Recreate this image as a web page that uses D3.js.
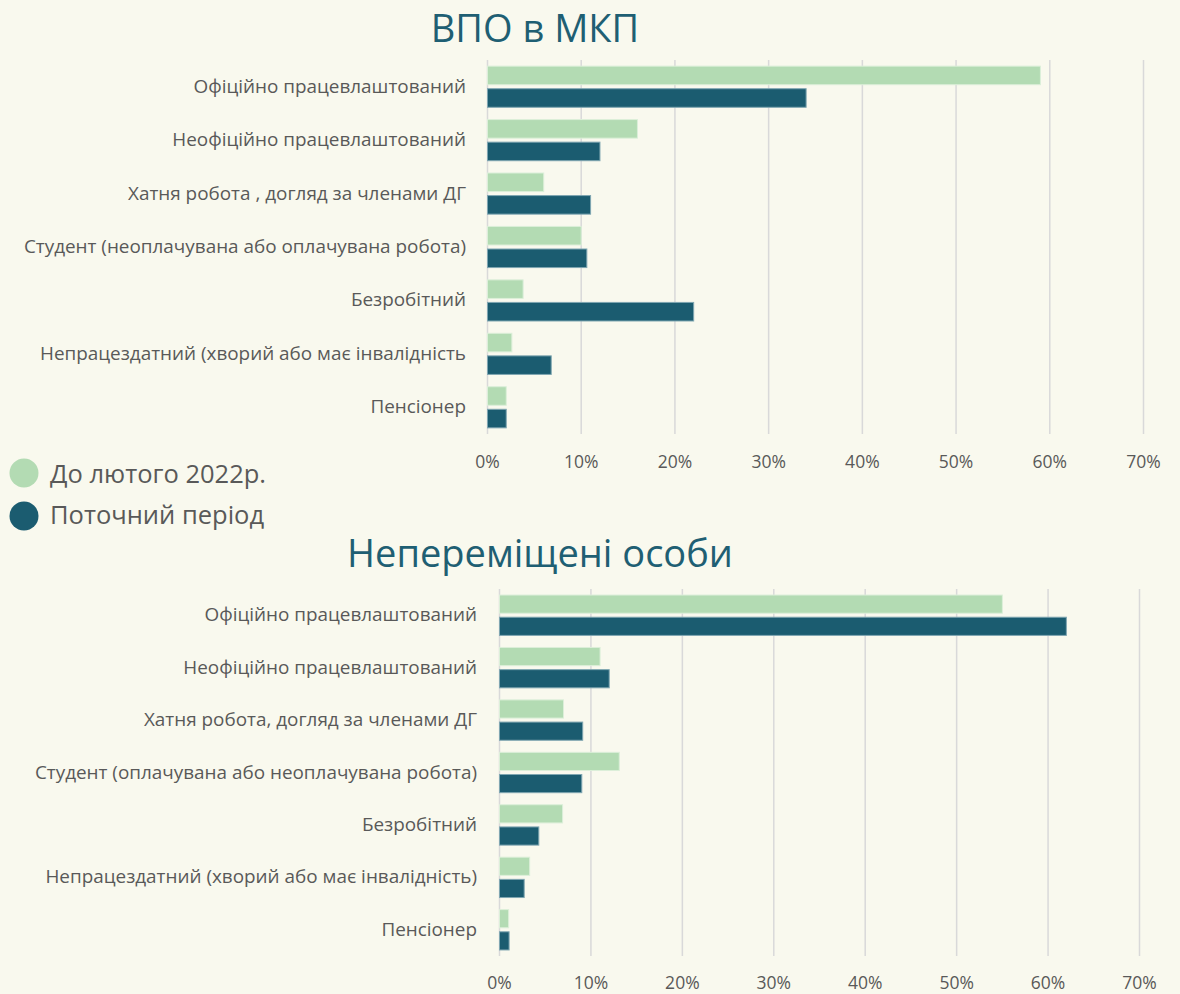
<!DOCTYPE html>
<html>
<head>
<meta charset="utf-8">
<script src="https://cdn.jsdelivr.net/npm/d3@7.9.0/dist/d3.min.js"></script>
<style>
  html, body { margin: 0; padding: 0; background: #f9f9ee; }
  svg { display: block; }
  text { font-family: 'Open Sans', 'Noto Sans', sans-serif; }
</style>
</head>
<body>
<div id="chart"></div>
<script>
// categories, top panel (IDPs)
const idpCategories = [
  'Офіційно працевлаштований',
  'Неофіційно працевлаштований',
  'Хатня робота , догляд за членами ДГ',
  'Студент (неоплачувана або оплачувана робота)',
  'Безробітний',
  'Непрацездатний (хворий або має інвалідність',
  'Пенсіонер',
];
const idpBefore = [59, 16, 6, 10, 3.8, 2.6, 2];
const idpCurrent = [34, 12, 11, 10.6, 22, 6.8, 2];

// categories, bottom panel (non-displaced)
const localCategories = [
  'Офіційно працевлаштований',
  'Неофіційно працевлаштований',
  'Хатня робота, догляд за членами ДГ',
  'Студент (оплачувана або неоплачувана робота)',
  'Безробітний',
  'Непрацездатний (хворий або має інвалідність)',
  'Пенсіонер',
];
const localBefore = [55, 11, 7, 13.1, 6.9, 3.3, 1];
const localCurrent = [62, 12, 9.1, 9, 4.3, 2.7, 1.05];

const seriesNames = ['До лютого 2022р.', 'Поточний період'];
const xTicks = [0, 10, 20, 30, 40, 50, 60, 70];

const colors = ['#b3dbb3', '#1b5c70'];
const strokes = ['#dcefd9', '#7fa6b1'];

const width = 1180;
const height = 994;

const svg = d3
  .select('#chart')
  .append('svg')
  .attr('width', width)
  .attr('height', height);

svg.append('rect')
  .attr('width', width)
  .attr('height', height)
  .attr('fill', '#f9f9ee');

drawPanel({
  title: 'ВПО в МКП',
  titleX: 535,
  titleY: 42,
  categories: idpCategories,
  before: idpBefore,
  current: idpCurrent,
  left: 487,
  right: 1143,
  top: 60,
  bottom: 434,
  labelRight: 466,
  tickY: 462,
});

drawPanel({
  title: 'Непереміщені особи',
  titleX: 540,
  titleY: 567,
  categories: localCategories,
  before: localBefore,
  current: localCurrent,
  left: 499,
  right: 1139,
  top: 589,
  bottom: 956,
  labelRight: 477,
  tickY: 983,
});

// LEGEND
const legend = svg.append('g').attr('class', 'legend');

legend
  .selectAll('circle')
  .data(seriesNames)
  .join('circle')
  .attr('cx', 24)
  .attr('cy', (d, i) => 473 + i * 43)
  .attr('r', 14.5)
  .attr('fill', (d, i) => colors[i]);

legend
  .selectAll('text')
  .data(seriesNames)
  .join('text')
  .attr('x', 50)
  .attr('y', (d, i) => 483 + i * 41)
  .attr('font-size', 25.5)
  .attr('fill', '#595959')
  .text((d) => d);

function drawPanel(cfg) {
  const g = svg.append('g');

  const xScale = d3
    .scaleLinear()
    .domain([0, 70])
    .range([cfg.left, cfg.right]);

  const yScale = d3
    .scaleBand()
    .domain(cfg.categories)
    .range([cfg.top, cfg.bottom])
    .paddingInner(0.23)
    .paddingOuter(0.115);

  const gap = 4;
  const barH = (yScale.bandwidth() - gap) / 2;

  // TITLE
  g.append('text')
    .attr('x', cfg.titleX)
    .attr('y', cfg.titleY)
    .attr('text-anchor', 'middle')
    .attr('font-size', 38)
    .attr('fill', '#1f5f73')
    .text(cfg.title);

  // GRIDLINES
  g.append('g')
    .attr('class', 'gridlines')
    .attr('transform', `translate(0,${cfg.bottom})`)
    .call(
      d3.axisBottom(xScale)
        .tickValues(xTicks)
        .tickFormat('')
        .tickSize(-(cfg.bottom - cfg.top))
    )
    .call((a) => a.select('.domain').remove())
    .call((a) =>
      a.selectAll('line')
        .attr('stroke', '#d9d9d9')
        .attr('stroke-width', 1.5)
    );

  // X TICK LABELS
  g.append('g')
    .attr('transform', `translate(0,${cfg.tickY})`)
    .call(
      d3.axisBottom(xScale)
        .tickValues(xTicks)
        .tickFormat((d) => d + '%')
        .tickSize(0)
        .tickPadding(0)
    )
    .call((a) => a.select('.domain').remove())
    .call((a) =>
      a.selectAll('text')
        .attr('dy', '0.35em')
        .attr('font-size', 17.5)
        .attr('font-family', "'Open Sans', sans-serif")
        .attr('fill', '#595959')
    );

  // Y LABELS
  g.append('g')
    .attr('transform', `translate(${cfg.labelRight},0)`)
    .call(d3.axisLeft(yScale).tickSize(0).tickPadding(0))
    .call((a) => a.select('.domain').remove())
    .call((a) =>
      a.selectAll('text')
        .attr('font-size', 18.9)
        .attr('font-family', "'Open Sans', sans-serif")
        .attr('fill', '#595959')
    );

  // BARS
  const series = [cfg.before, cfg.current];

  series.forEach((values, si) => {
    g.append('g')
      .selectAll('rect')
      .data(values)
      .join('rect')
      .attr('x', xScale(0) + 0.5)
      .attr('y', (d, i) =>
        yScale(cfg.categories[i]) + si * (barH + gap)
      )
      .attr('width', (d) => xScale(d) - xScale(0))
      .attr('height', barH)
      .attr('fill', colors[si])
      .attr('stroke', strokes[si])
      .attr('stroke-width', 1);
  });
}
</script>
</body>
</html>
